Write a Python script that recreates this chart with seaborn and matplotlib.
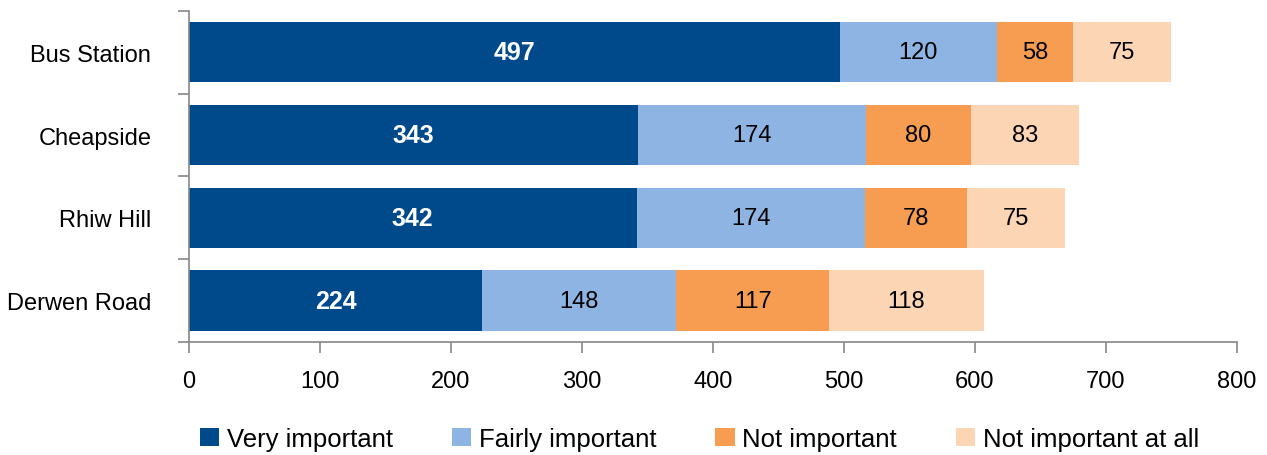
import matplotlib
matplotlib.use("Agg")
import matplotlib.pyplot as plt
import seaborn as sns
import numpy as np
import pandas as pd
from matplotlib.patches import Patch
from matplotlib.ticker import FixedLocator

categories = ["Bus Station", "Cheapside", "Rhiw Hill", "Derwen Road"]
series_names = ["Very important", "Fairly important", "Not important", "Not important at all"]
very_important = [497, 343, 342, 224]
fairly_important = [120, 174, 174, 148]
not_important = [58, 80, 78, 117]
not_important_at_all = [75, 83, 75, 118]
colors = ["#004A8C", "#8EB4E3", "#F79D51", "#FCD5B4"]
x_ticks = [0, 100, 200, 300, 400, 500, 600, 700, 800]

sns.set_theme(style="white")
plt.rcParams["font.family"] = ["Liberation Sans", "DejaVu Sans"]
plt.rcParams["text.color"] = "black"
plt.rcParams["xtick.labelcolor"] = "black"
plt.rcParams["ytick.labelcolor"] = "black"

values = np.array([very_important, fairly_important, not_important, not_important_at_all])
cum = np.cumsum(values, axis=0)

fig = plt.figure(figsize=(12.67, 4.56), dpi=100)
ax = fig.add_axes([0.149, 0.248, 0.827, 0.726])

# draw cumulative bars from the largest to the smallest so they stack visually
for i in range(len(series_names) - 1, -1, -1):
    df = pd.DataFrame({"category": categories, "total": cum[i]})
    sns.barplot(data=df, x="total", y="category", orient="h", color=colors[i],
                saturation=1, width=0.73, ax=ax, linewidth=0, edgecolor="none")

for i in range(len(series_names)):
    for j, cat in enumerate(categories):
        v = values[i, j]
        center = cum[i, j] - v / 2
        if i == 0:
            ax.text(center, j, str(v), ha="center", va="center", color="white",
                    fontsize=18, fontweight="bold")
        else:
            ax.text(center, j, str(v), ha="center", va="center", color="black",
                    fontsize=17)

ax.set_xlim(0, 800)
ax.set_ylim(len(categories) - 0.5, -0.5)
ax.set_xticks(x_ticks)
ax.set_xticklabels([str(t) for t in x_ticks], fontsize=17)
ax.set_xlabel("")
ax.set_ylabel("")
ax.tick_params(axis="y", which="major", length=0, labelsize=17, pad=27)
ax.yaxis.set_minor_locator(FixedLocator(np.arange(-0.5, len(categories), 1.0)))
ax.tick_params(axis="y", which="minor", length=8, width=1.2, color="#888888", left=True)
ax.tick_params(axis="x", which="major", length=8, width=1.2, color="#888888",
               direction="out", bottom=True, pad=12)

for s in ["top", "right"]:
    ax.spines[s].set_visible(False)
for s in ["left", "bottom"]:
    ax.spines[s].set_color("#888888")
    ax.spines[s].set_linewidth(1.2)

handles = [Patch(facecolor=c, edgecolor="none", label=n) for c, n in zip(colors, series_names)]
fig.legend(handles=handles, loc="center", bbox_to_anchor=(0.552, 0.035), ncol=4,
           frameon=False, fontsize=18.5, handlelength=0.75, handleheight=0.75,
           handletextpad=0.3, columnspacing=2.3)

fig.savefig("out.png", dpi=100)
